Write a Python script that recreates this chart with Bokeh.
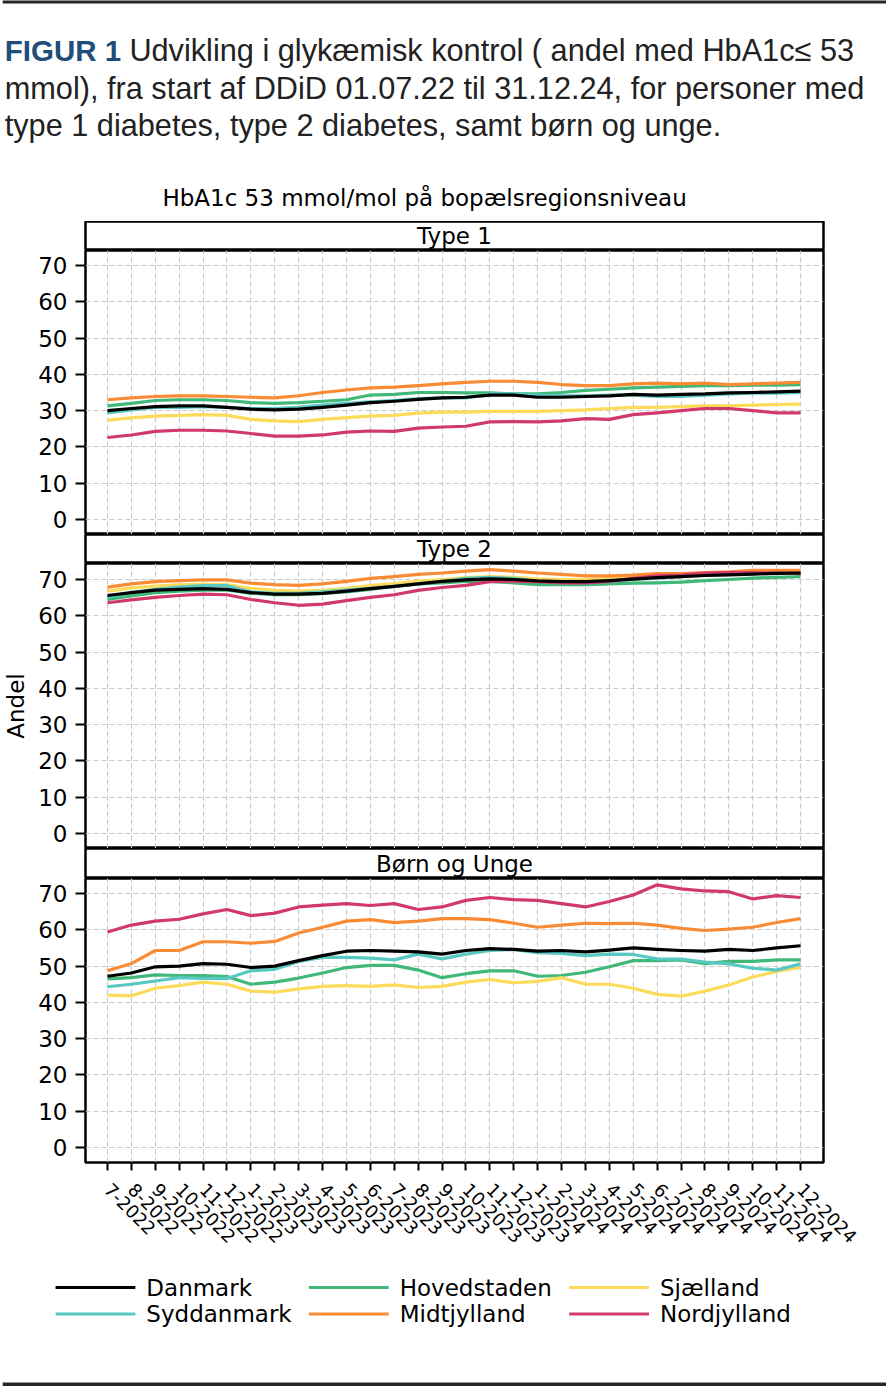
import math
from bokeh.plotting import figure
from bokeh.layouts import column
from bokeh.models import Range1d, FixedTicker, Label
from bokeh.core.properties import value
from bokeh.embed import file_html
from bokeh.resources import INLINE

# ---------------- data ----------------
months = ["7-2022", "8-2022", "9-2022", "10-2022", "11-2022", "12-2022",
          "1-2023", "2-2023", "3-2023", "4-2023", "5-2023", "6-2023",
          "7-2023", "8-2023", "9-2023", "10-2023", "11-2023", "12-2023",
          "1-2024", "2-2024", "3-2024", "4-2024", "5-2024", "6-2024",
          "7-2024", "8-2024", "9-2024", "10-2024", "11-2024", "12-2024"]

regions = ["Danmark", "Hovedstaden", "Sjælland", "Syddanmark", "Midtjylland", "Nordjylland"]
colors = ["#000000", "#40b878", "#fcdb5b", "#58c8c2", "#fa8b35", "#d1396b"]
panel_titles = ["Type 1", "Type 2", "Børn og Unge"]

t1_danmark = [30.0, 30.6, 31.1, 31.3, 31.3, 30.9, 30.4, 30.2, 30.4, 30.9, 31.5, 32.2, 32.6, 33.1, 33.5,
              33.7, 34.3, 34.3, 33.7, 33.7, 33.9, 34.1, 34.5, 34.3, 34.5, 34.6, 34.9, 35.0, 35.2, 35.4]
t1_hovedstaden = [31.3, 32.0, 32.8, 33.0, 33.0, 32.8, 32.2, 32.0, 32.2, 32.6, 33.0, 34.3, 34.5, 35.0, 35.0,
                  34.9, 34.9, 34.6, 34.6, 35.0, 35.6, 35.9, 36.3, 36.5, 36.7, 36.9, 36.9, 37.0, 37.0, 37.2]
t1_sjaelland = [27.4, 28.0, 28.5, 28.7, 28.9, 28.7, 27.6, 27.2, 27.0, 27.6, 28.1, 28.5, 28.7, 29.3, 29.6,
                29.6, 29.8, 29.8, 29.8, 30.0, 30.2, 30.6, 30.9, 30.9, 31.1, 31.3, 31.3, 31.5, 31.7, 31.8]
t1_syddanmark = [29.4, 30.2, 30.9, 30.9, 31.1, 30.9, 30.6, 30.6, 30.9, 31.5, 32.0, 32.4, 32.8, 33.3, 33.5,
                 33.5, 34.6, 34.6, 34.3, 34.1, 34.1, 34.3, 34.3, 33.9, 33.9, 34.3, 34.6, 34.8, 34.8, 35.0]
t1_midtjylland = [33.0, 33.5, 33.9, 34.1, 34.1, 33.9, 33.7, 33.5, 34.1, 35.0, 35.7, 36.3, 36.5, 36.9, 37.4,
                  37.8, 38.1, 38.1, 37.8, 37.2, 36.9, 36.9, 37.4, 37.6, 37.4, 37.6, 37.2, 37.4, 37.6, 37.8]
t1_nordjylland = [22.6, 23.3, 24.3, 24.6, 24.6, 24.4, 23.7, 23.0, 23.0, 23.3, 24.1, 24.4, 24.3, 25.2, 25.5,
                  25.7, 26.9, 27.0, 26.9, 27.2, 27.8, 27.6, 28.9, 29.4, 30.0, 30.6, 30.6, 30.0, 29.4, 29.4]

t2_danmark = [65.6, 66.4, 67.1, 67.3, 67.5, 67.3, 66.4, 66.0, 66.0, 66.2, 66.8, 67.5, 68.1, 68.8, 69.5,
              69.9, 70.2, 70.0, 69.6, 69.4, 69.4, 69.7, 70.1, 70.5, 70.8, 71.1, 71.3, 71.5, 71.7, 71.8]
t2_hovedstaden = [64.5, 65.5, 66.4, 66.8, 67.1, 67.1, 66.2, 65.8, 65.8, 66.2, 66.6, 67.3, 68.1, 68.8, 69.1,
                  69.5, 69.5, 69.1, 68.6, 68.6, 68.6, 68.8, 69.0, 69.1, 69.3, 69.7, 70.0, 70.4, 70.6, 70.8]
t2_sjaelland = [66.8, 67.7, 68.2, 68.5, 68.7, 68.6, 67.6, 67.0, 66.8, 67.0, 67.6, 68.3, 68.9, 69.5, 70.0,
                70.5, 70.8, 70.6, 70.2, 70.0, 70.0, 70.3, 70.8, 71.2, 71.4, 71.6, 71.8, 72.0, 72.1, 72.2]
t2_syddanmark = [65.1, 66.4, 67.3, 67.9, 68.3, 68.3, 66.6, 66.2, 66.2, 66.6, 67.1, 67.6, 68.1, 68.8, 69.5,
                 70.3, 70.6, 70.3, 69.5, 69.1, 69.1, 69.5, 70.0, 70.4, 70.8, 71.2, 71.4, 71.6, 71.8, 71.8]
t2_midtjylland = [67.9, 68.8, 69.4, 69.7, 69.9, 69.9, 69.0, 68.6, 68.4, 68.8, 69.5, 70.3, 70.8, 71.4, 71.8,
                  72.3, 72.7, 72.3, 71.8, 71.4, 71.0, 71.0, 71.2, 71.6, 71.6, 71.9, 72.1, 72.5, 72.5, 72.5]
t2_nordjylland = [63.6, 64.4, 65.1, 65.6, 66.0, 65.8, 64.5, 63.6, 62.9, 63.2, 64.2, 65.1, 65.8, 67.0, 67.8,
                  68.4, 69.4, 69.5, 69.4, 69.1, 69.1, 69.5, 70.3, 71.0, 71.2, 71.8, 71.9, 71.9, 71.8, 71.6]

bu_danmark = [47.2, 48.1, 49.8, 50.0, 50.7, 50.5, 49.6, 50.0, 51.5, 52.9, 54.1, 54.3, 54.1, 53.9, 53.3,
              54.3, 54.8, 54.6, 54.1, 54.3, 53.9, 54.4, 55.0, 54.6, 54.3, 54.1, 54.6, 54.3, 55.0, 55.6]
bu_hovedstaden = [46.5, 46.8, 47.6, 47.4, 47.4, 47.1, 45.0, 45.6, 46.7, 48.1, 49.6, 50.2, 50.2, 48.9, 46.8,
                  47.9, 48.7, 48.7, 47.2, 47.4, 48.3, 49.8, 51.5, 51.5, 51.7, 50.7, 51.3, 51.3, 51.7, 51.7]
bu_sjaelland = [42.0, 41.8, 43.9, 44.6, 45.6, 45.0, 43.1, 42.8, 43.7, 44.4, 44.6, 44.4, 44.8, 44.1, 44.4,
                45.6, 46.3, 45.4, 45.8, 46.8, 45.0, 45.0, 43.9, 42.2, 41.7, 43.1, 44.8, 47.0, 48.5, 49.6]
bu_syddanmark = [44.3, 45.0, 45.9, 46.8, 46.6, 46.6, 48.7, 49.1, 51.3, 52.4, 52.4, 52.2, 51.7, 53.3, 52.0,
                 53.3, 54.3, 54.6, 53.7, 53.5, 52.9, 53.3, 53.2, 52.0, 51.9, 51.1, 50.6, 49.4, 48.9, 50.6]
bu_midtjylland = [48.7, 50.7, 54.3, 54.3, 56.7, 56.7, 56.3, 56.8, 59.1, 60.7, 62.4, 62.8, 62.0, 62.4, 63.1,
                  63.1, 62.8, 61.8, 60.7, 61.3, 61.8, 61.7, 61.8, 61.3, 60.4, 59.8, 60.2, 60.7, 62.0, 63.1]
bu_nordjylland = [59.4, 61.3, 62.4, 62.9, 64.4, 65.6, 63.9, 64.6, 66.3, 66.8, 67.2, 66.7, 67.2, 65.6, 66.3,
                  68.1, 68.9, 68.3, 68.1, 67.2, 66.3, 67.8, 69.6, 72.4, 71.3, 70.7, 70.5, 68.5, 69.4, 68.9]

y_ticks = [0, 10, 20, 30, 40, 50, 60, 70]

panel_series = [
    [t1_danmark, t1_hovedstaden, t1_sjaelland, t1_syddanmark, t1_midtjylland, t1_nordjylland],
    [t2_danmark, t2_hovedstaden, t2_sjaelland, t2_syddanmark, t2_midtjylland, t2_nordjylland],
    [bu_danmark, bu_hovedstaden, bu_sjaelland, bu_syddanmark, bu_midtjylland, bu_nordjylland],
]
draw_order = [1, 2, 3, 4, 5, 0]

# ---------------- layout constants ----------------
W = 886
FONT = "DejaVu Sans"
CAP_FONT = "Liberation Sans"
LEFT = 83
RIGHT = 63
XMIN, XMAX = -0.92, 29.96
PX_PER_UNIT = 254.0 / 70.0
PX_PER_X = (W - LEFT - RIGHT) / (XMAX - XMIN)
YMIN = -4.13
GRID_COLOR = "#c9c9c9"
FRAME_W = 2.5
RULE_COLOR = "#262626"
LINE_W = 3.2


def strip(title, height, top_border=0):
    p = figure(width=W, height=height, x_range=Range1d(0, 1), y_range=Range1d(0, 1),
               output_backend="svg", toolbar_location=None, x_axis_location=None,
               y_axis_location=None, title=None,
               min_border_left=LEFT, min_border_right=RIGHT,
               min_border_top=top_border, min_border_bottom=0)
    p.grid.visible = False
    p.outline_line_color = "black"
    p.outline_line_width = FRAME_W
    p.add_layout(Label(x=0.5, y=0.5, text=title, text_align="center", text_baseline="middle",
                       text_font=FONT, text_font_size="23px", text_color="black"))
    return p


def panel(series, height, show_x=False, ylabel=None, bottom=0):
    ymax = YMIN + height / PX_PER_UNIT
    p = figure(width=W, height=height + bottom, x_range=Range1d(XMIN, XMAX),
               y_range=Range1d(YMIN, ymax), output_backend="svg", toolbar_location=None,
               x_axis_location="below" if show_x else None, title=None,
               min_border_left=LEFT, min_border_right=RIGHT,
               min_border_top=0, min_border_bottom=bottom)
    p.outline_line_color = "black"
    p.outline_line_width = FRAME_W
    p.xgrid.ticker = FixedTicker(ticks=list(range(len(months))))
    p.ygrid.ticker = FixedTicker(ticks=y_ticks)
    for g in (p.xgrid, p.ygrid):
        g.grid_line_color = GRID_COLOR
        g.grid_line_dash = "5 3"
        g.grid_line_width = 1.2
    ya = p.yaxis[0]
    ya.ticker = FixedTicker(ticks=y_ticks)
    ya.axis_line_color = None
    ya.major_tick_out = 10
    ya.major_tick_in = 0
    ya.minor_tick_line_color = None
    ya.major_tick_line_width = 2
    ya.major_tick_line_color = "black"
    ya.major_label_standoff = 8
    ya.major_label_text_font = FONT
    ya.major_label_text_font_size = "23px"
    ya.major_label_text_color = "black"
    if ylabel:
        ya.axis_label = ylabel
        ya.axis_label_text_font = FONT
        ya.axis_label_text_font_size = "23px"
        ya.axis_label_text_font_style = "normal"
        ya.axis_label_text_color = "black"
        ya.axis_label_standoff = 6
    if show_x:
        xa = p.xaxis[0]
        xa.ticker = FixedTicker(ticks=list(range(len(months))))
        xa.major_label_overrides = {i: m for i, m in enumerate(months)}
        xa.major_label_orientation = -math.pi / 4
        xa.axis_line_color = None
        xa.major_tick_out = 8
        xa.major_tick_in = 0
        xa.minor_tick_line_color = None
        xa.major_tick_line_width = 2
        xa.major_tick_line_color = "black"
        xa.major_label_standoff = 16
        xa.major_label_text_font = FONT
        xa.major_label_text_font_size = "18px"
        xa.major_label_text_color = "black"
    x = list(range(len(months)))
    for k in draw_order:
        p.line(x, series[k], line_color=colors[k], line_width=LINE_W, line_join="round")
    return p


# ---------------- header (page coordinates) ----------------
HEAD_BOTTOM = 221
head = figure(width=W, height=HEAD_BOTTOM, x_range=Range1d(LEFT, W - RIGHT),
              y_range=Range1d(HEAD_BOTTOM, 0), output_backend="svg",
              toolbar_location=None, x_axis_location=None, y_axis_location=None, title=None,
              min_border_left=LEFT, min_border_right=RIGHT, min_border_top=0, min_border_bottom=0)
head.grid.visible = False
head.outline_line_color = None
CAP_SIZE = "30.7px"
hr = [
    head.quad(left=[0], right=[W], top=[0], bottom=[3], fill_color=RULE_COLOR, line_color=None),
    head.text(x=[2], y=[50], text=["FIGUR 1"], text_font=value(CAP_FONT), text_font_size="29.5px",
              text_font_style="bold", text_color="#1f4e79", text_baseline="alphabetic"),
    head.text(x=[127], y=[50], text=["Udvikling i glykæmisk kontrol ( andel med HbA1c≤ 53"],
              text_font=value(CAP_FONT), text_font_size=CAP_SIZE, text_color="#222222",
              text_baseline="alphabetic"),
    head.text(x=[2, 2], y=[87.5, 125],
              text=["mmol), fra start af DDiD 01.07.22 til 31.12.24, for personer med",
                    "type 1 diabetes, type 2 diabetes, samt børn og unge."],
              text_font=value(CAP_FONT), text_font_size=CAP_SIZE, text_color="#222222",
              text_baseline="alphabetic"),
    head.text(x=[423], y=[197], text=["HbA1c 53 mmol/mol på bopælsregionsniveau"],
              text_font=value(FONT), text_font_size="23px", text_color="black",
              text_align="center", text_baseline="alphabetic"),
]
for r in hr:
    r.level = "overlay"

# ---------------- panels ----------------
s1 = strip(panel_titles[0], 29)
p1 = panel(panel_series[0], 284)
s2 = strip(panel_titles[1], 29)
p2 = panel(panel_series[1], 285, ylabel="Andel")
s3 = strip(panel_titles[2], 30)
BOTTOM3 = 224
FRAME3_BOTTOM_PAGE = 1162
p3 = panel(panel_series[2], 284, show_x=True, bottom=BOTTOM3)


def page_x(px):
    return XMIN + (px - LEFT) / PX_PER_X


def page_y(py):
    return YMIN - (py - FRAME3_BOTTOM_PAGE) / PX_PER_UNIT


# bottom rule (page rows 1382-1386)
rb = p3.quad(left=[page_x(0)], right=[page_x(W)], top=[page_y(1382)], bottom=[page_y(1386)],
             fill_color=RULE_COLOR, line_color=None)
rb.level = "overlay"

# ---------------- legend (3 columns x 2 rows, below the axis) ----------------
leg_cols_px = [53, 307, 568]
leg_rows_px = [1287, 1313.5]
for k, name in enumerate(regions):
    col, row = k % 3, k // 3
    gx0 = leg_cols_px[col]
    gy = leg_rows_px[row]
    seg = p3.segment(x0=[page_x(gx0)], y0=[page_y(gy)], x1=[page_x(gx0 + 80)], y1=[page_y(gy)],
                     line_color=colors[k], line_width=LINE_W)
    seg.level = "overlay"
    txt = p3.text(x=[page_x(gx0 + 91)], y=[page_y(gy)], text=[name], text_font=value(FONT),
                  text_font_size="23px", text_color="black", text_align="left",
                  text_baseline="middle")
    txt.level = "overlay"

layout = column(head, s1, p1, s2, p2, s3, p3, spacing=0)

open("out.html", "w").write(file_html(layout, INLINE))
